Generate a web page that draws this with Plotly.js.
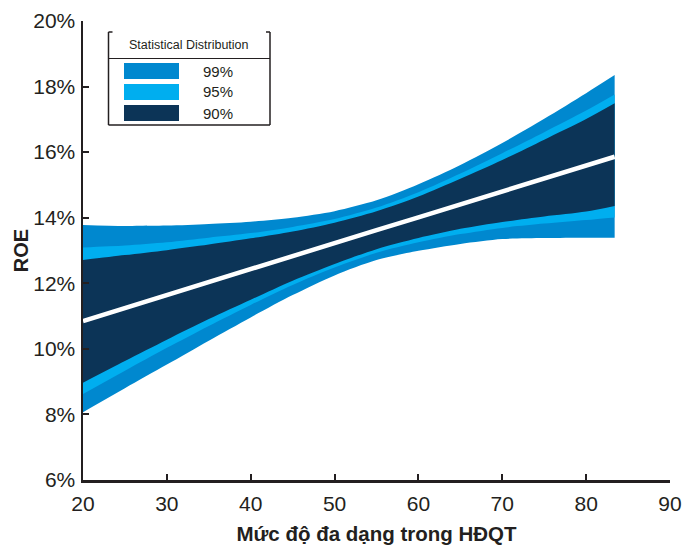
<!DOCTYPE html>
<html>
<head>
<meta charset="utf-8">
<script src="https://cdn.plot.ly/plotly-3.0.1.min.js"></script>
<style>html,body{margin:0;padding:0;background:#fff;}#chart{width:686px;height:547px;}</style>
</head>
<body>
<div id="chart"></div>
<script>
// ---- data ----
var xs = [20, 25, 30, 35, 40, 45, 50, 55, 60, 65, 70, 75, 80, 83.4];
var fitLine = [10.85, 11.25, 11.64, 12.04, 12.43, 12.83, 13.22, 13.62, 14.01, 14.41, 14.80, 15.20, 15.59, 15.86];
var upper99 = [13.78, 13.75, 13.76, 13.81, 13.88, 14.00, 14.20, 14.53, 15.02, 15.61, 16.28, 17.02, 17.80, 18.35];
var lower99 = [8.07, 8.80, 9.52, 10.25, 10.96, 11.64, 12.24, 12.71, 12.99, 13.20, 13.35, 13.38, 13.39, 13.39];
var upper95 = [13.09, 13.15, 13.25, 13.39, 13.53, 13.72, 13.96, 14.31, 14.78, 15.35, 15.97, 16.61, 17.27, 17.76];
var lower95 = [8.62, 9.33, 10.03, 10.70, 11.34, 11.95, 12.48, 12.93, 13.25, 13.50, 13.69, 13.82, 13.93, 14.01];
var upper90 = [12.71, 12.86, 13.01, 13.18, 13.37, 13.58, 13.85, 14.20, 14.65, 15.19, 15.76, 16.38, 17.01, 17.49];
var lower90 = [8.97, 9.63, 10.28, 10.91, 11.50, 12.08, 12.59, 13.04, 13.38, 13.66, 13.87, 14.04, 14.19, 14.36];
var bandNames = ['99%', '95%', '90%'];
var legendTitle = 'Statistical Distribution';
var xTitle = 'Mức độ đa dạng trong HĐQT';
var yTitle = 'ROE';

// ---- styles ----
var bandColors = ['#0088cf', '#00aeef', '#0c3457'];
var ink = '#231f20';
var FONT = 'Liberation Sans, Arial, sans-serif';
var W = 686, H = 547;
var M = {l: 83, r: 16, t: 21, b: 67};

function edge(ys, color, fill, name) {
  return {
    type: 'scatter', mode: 'lines', name: name,
    x: xs, y: ys,
    fill: fill, fillcolor: color,
    line: {width: 0, color: color, shape: 'spline', smoothing: 0.8},
    hoverinfo: 'skip', showlegend: false
  };
}

var traces = [
  edge(lower99, bandColors[0], 'none', bandNames[0]),
  edge(upper99, bandColors[0], 'tonexty', bandNames[0]),
  edge(lower95, bandColors[1], 'none', bandNames[1]),
  edge(upper95, bandColors[1], 'tonexty', bandNames[1]),
  edge(lower90, bandColors[2], 'none', bandNames[2]),
  edge(upper90, bandColors[2], 'tonexty', bandNames[2]),
  {type: 'scatter', mode: 'lines', x: xs, y: fitLine, line: {color: '#ffffff', width: 4.5}, showlegend: false, hoverinfo: 'skip'}
];

// pixel -> paper helpers for the hand-drawn legend box
var pw = W - M.l - M.r, ph = H - M.t - M.b;
function px(v) { return (v - M.l) / pw; }
function py(v) { return (H - M.b - v) / ph; }

var lgL = 108.5, lgR = 270, lgT = 32, lgB = 125, lgSep = 58.5;
var lineStyle = {color: ink, width: 1.5};
var shapes = [
  {type: 'line', xref: 'paper', yref: 'paper', x0: px(lgL), x1: px(lgL), y0: py(lgT), y1: py(lgB), line: lineStyle},
  {type: 'line', xref: 'paper', yref: 'paper', x0: px(lgR), x1: px(lgR), y0: py(lgT), y1: py(lgB), line: lineStyle},
  {type: 'line', xref: 'paper', yref: 'paper', x0: px(lgL), x1: px(lgR), y0: py(lgB), y1: py(lgB), line: lineStyle},
  {type: 'line', xref: 'paper', yref: 'paper', x0: px(lgL), x1: px(lgL + 4), y0: py(lgT), y1: py(lgT), line: lineStyle},
  {type: 'line', xref: 'paper', yref: 'paper', x0: px(lgR - 4), x1: px(lgR), y0: py(lgT), y1: py(lgT), line: lineStyle},
  {type: 'line', xref: 'paper', yref: 'paper', x0: px(lgL), x1: px(lgR), y0: py(lgSep), y1: py(lgSep), line: {color: ink, width: 1}}
];
var annotations = [
  {xref: 'paper', yref: 'paper', x: px((lgL + lgR) / 2), y: py(45), text: legendTitle, showarrow: false,
   xanchor: 'center', yanchor: 'middle', font: {family: FONT, size: 12.5, color: ink}}
];
var swT = [63, 84, 105], swH = 16;
for (var i = 0; i < bandNames.length; i++) {
  shapes.push({type: 'rect', xref: 'paper', yref: 'paper', x0: px(124), x1: px(179), y0: py(swT[i] + swH), y1: py(swT[i]),
    fillcolor: bandColors[i], line: {width: 0}});
  annotations.push({xref: 'paper', yref: 'paper', x: px(201), y: py(swT[i] + swH / 2), text: bandNames[i], showarrow: false,
    xanchor: 'left', yanchor: 'middle', font: {family: FONT, size: 15, color: ink}});
}

var axisCommon = {
  showline: true, linecolor: ink, linewidth: 2.5, mirror: false,
  ticks: 'inside', ticklen: 6, tickwidth: 2, tickcolor: ink,
  showgrid: false, zeroline: false,
  tickfont: {family: FONT, size: 21, color: ink}
};

var layout = {
  width: W, height: H, margin: M,
  paper_bgcolor: '#ffffff', plot_bgcolor: '#ffffff',
  showlegend: false,
  xaxis: Object.assign({}, axisCommon, {
    range: [20, 90], dtick: 10, tick0: 20, ticklabelstandoff: 3,
    title: {text: xTitle, standoff: 13, font: {family: FONT, size: 20.5, color: ink, weight: 'bold'}}
  }),
  yaxis: Object.assign({}, axisCommon, {
    range: [6, 20], dtick: 2, tick0: 6, ticksuffix: '%', ticklabelstandoff: 1,
    title: {text: yTitle, standoff: 0, font: {family: FONT, size: 20, color: ink, weight: 'bold'}}
  }),
  shapes: shapes,
  annotations: annotations
};

Plotly.newPlot('chart', traces, layout, {displayModeBar: false, staticPlot: true});
</script>
</body>
</html>
